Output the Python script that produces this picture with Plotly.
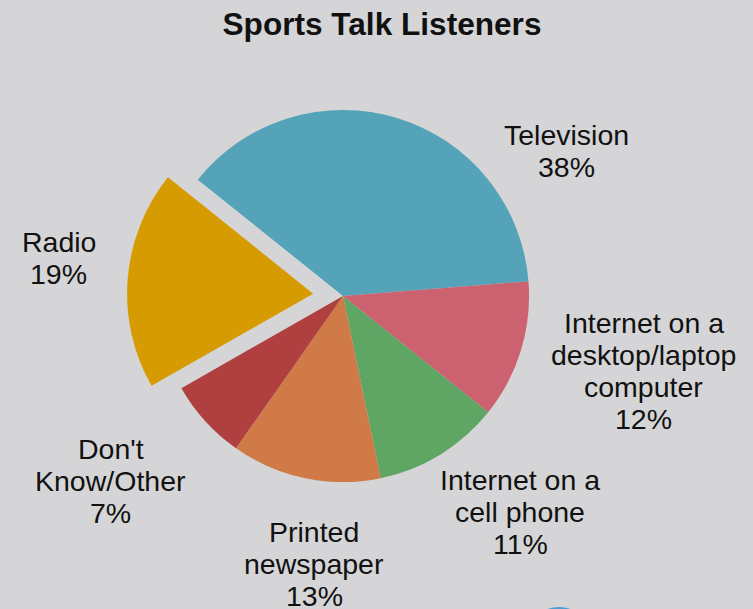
import math
import plotly.graph_objects as go

# Survey shares (percent), in drawing order starting from Television, clockwise
categories = [
    "Television",
    "Internet on a<br>desktop/laptop<br>computer",
    "Internet on a<br>cell phone",
    "Printed<br>newspaper",
    "Don't<br>Know/Other",
    "Radio",
]
shares = [38, 12, 11, 13, 7, 19]
slice_colors = ["#55a3b8", "#cc6170", "#5fa563", "#cf7a47", "#b04040", "#d69b00"]
slice_pull = [0, 0, 0, 0, 0, 0.161]

# Figure geometry
FIG_W, FIG_H = 753, 609
MARGIN = dict(l=127, r=194, t=80, b=97)
PLOT_W = FIG_W - MARGIN["l"] - MARGIN["r"]
PLOT_H = FIG_H - MARGIN["t"] - MARGIN["b"]
CX = MARGIN["l"] + PLOT_W / 2
CY = MARGIN["t"] + PLOT_H / 2
ROTATION = -51.3

FONT = "Liberation Sans, Arial, Helvetica, sans-serif"
LABEL_SIZE = 28.5
LINE_STEP = 32
BG = "#d5d5d7"

# Label placement around the pie: distance from centre and angular nudge (deg)
label_dist = [266, 310, 279, 269.5, 297, 287]
label_nudge = [-39.9, 3.1, 7.9, 5.6, -3.7, -3.2]


def px_to_paper(x, y):
    return (x - MARGIN["l"]) / PLOT_W, (FIG_H - MARGIN["b"] - y) / PLOT_H


fig = go.Figure(
    go.Pie(
        labels=[c.replace("<br>", " ") for c in categories],
        values=shares,
        sort=False,
        direction="clockwise",
        rotation=ROTATION,
        pull=slice_pull,
        marker=dict(colors=slice_colors, line=dict(width=0)),
        textinfo="none",
        hoverinfo="label+percent",
        showlegend=False,
    )
)

# Outside labels, one annotation per line so the line spacing stays tight
total = sum(shares)
start = 90 - ROTATION  # math angle of the first slice's leading edge
acc = 0
annotations = []
for i, (cat, v) in enumerate(zip(categories, shares)):
    mid = start - 360 * (acc + v / 2) / total
    acc += v
    theta = math.radians(mid + label_nudge[i])
    lx = CX + label_dist[i] * math.cos(theta)
    ly = CY - label_dist[i] * math.sin(theta)
    lines = cat.split("<br>") + [f"{v}%"]
    n = len(lines)
    for k, line in enumerate(lines):
        px, py = px_to_paper(lx, ly + (k - (n - 1) / 2) * LINE_STEP)
        annotations.append(
            dict(
                x=px, y=py, xref="paper", yref="paper",
                text=line, showarrow=False,
                xanchor="center", yanchor="middle",
                font=dict(family=FONT, size=LABEL_SIZE, color="#111111"),
            )
        )

# Partially visible blue disc at the bottom edge
x0, y0 = px_to_paper(524, 607)
x1, y1 = px_to_paper(594, 677)

fig.update_layout(
    width=FIG_W,
    height=FIG_H,
    margin=MARGIN,
    paper_bgcolor=BG,
    plot_bgcolor=BG,
    title=dict(
        text="<b>Sports Talk Listeners</b>",
        x=382 / FIG_W, xref="container", xanchor="center",
        y=1 - 24 / FIG_H, yref="container", yanchor="middle",
        font=dict(family=FONT, size=31.6, color="#111111"),
    ),
    annotations=annotations,
    shapes=[
        dict(type="circle", xref="paper", yref="paper",
             x0=x0, x1=x1, y0=y0, y1=y1,
             fillcolor="#4a9fd4", line=dict(width=0), layer="above"),
    ],
)

fig.write_html("out.html")
